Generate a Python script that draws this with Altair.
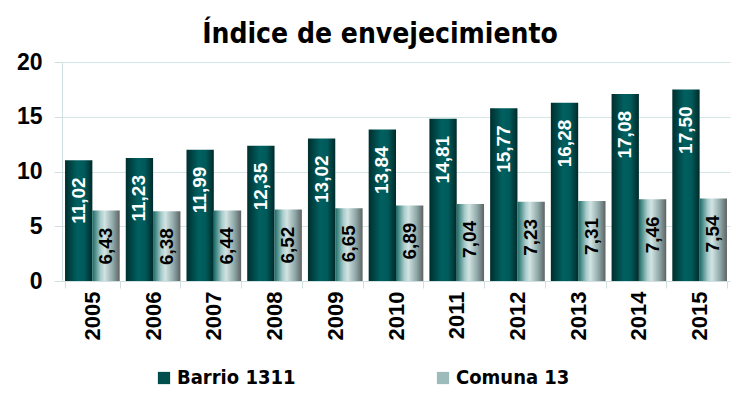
import altair as alt
import pandas as pd

years = ["2005", "2006", "2007", "2008", "2009", "2010", "2011", "2012", "2013", "2014", "2015"]
barrio = [11.02, 11.23, 11.99, 12.35, 13.02, 13.84, 14.81, 15.77, 16.28, 17.08, 17.50]
comuna = [6.43, 6.38, 6.44, 6.52, 6.65, 6.89, 7.04, 7.23, 7.31, 7.46, 7.54]
series = ["Barrio 1311", "Comuna 13"]

rows = []
for y, b, c in zip(years, barrio, comuna):
    rows.append({"year": y, "series": series[0], "value": b})
    rows.append({"year": y, "series": series[1], "value": c})
df = pd.DataFrame(rows)
df["label"] = df["value"].map(lambda v: f"{v:.2f}".replace(".", ","))

FONT = "Liberation Sans, Arial, sans-serif"
NARROW = "DejaVu Sans Condensed, Roboto, Liberation Sans, sans-serif"

grad_barrio = alt.LinearGradient(
    gradient="linear", x1=0, x2=1, y1=0, y2=0,
    stops=[
        alt.GradientStop(color="#002e2e", offset=0),
        alt.GradientStop(color="#006060", offset=0.45),
        alt.GradientStop(color="#005a5a", offset=0.7),
        alt.GradientStop(color="#002a2a", offset=1),
    ],
)
grad_comuna = alt.LinearGradient(
    gradient="linear", x1=0, x2=1, y1=0, y2=0,
    stops=[
        alt.GradientStop(color="#1a6a66", offset=0),
        alt.GradientStop(color="#a8cccb", offset=0.3),
        alt.GradientStop(color="#d2e3e3", offset=0.45),
        alt.GradientStop(color="#8fa8a8", offset=0.75),
        alt.GradientStop(color="#5e6262", offset=1),
    ],
)

x_enc = alt.X(
    "year:N",
    title=None,
    sort=years,
    scale=alt.Scale(paddingInner=0.1, paddingOuter=0.05),
    axis=alt.Axis(
        labelAngle=270, labelFont=FONT, labelFontSize=22, labelFontWeight="bold",
        labelColor="black", labelPadding=3, labelAlign="right", labelBaseline="middle",
        tickBand="extent", tickColor="#d0e0e0", tickSize=7,
        domainColor="#d0e0e0", grid=False,
    ),
)
xo_enc = alt.XOffset("series:N", sort=series, scale=alt.Scale(domain=series, paddingInner=0, paddingOuter=0))
y_enc = alt.Y(
    "value:Q",
    title=None,
    scale=alt.Scale(domain=[0, 20]),
    axis=alt.Axis(
        values=[0, 5, 10, 15, 20], labelFont=FONT, labelFontSize=23, labelFontWeight="bold",
        labelColor="black", labelPadding=12, tickColor="#d0e0e0", tickSize=8,
        domainColor="#d0e0e0", gridColor="#d5e6e6",
    ),
)

base = alt.Chart(df)

bars_b = base.transform_filter(alt.datum.series == series[0]).mark_bar(fill=grad_barrio).encode(
    x=x_enc, xOffset=xo_enc, y=y_enc)
bars_c = base.transform_filter(alt.datum.series == series[1]).mark_bar(fill=grad_comuna).encode(
    x=x_enc, xOffset=xo_enc, y=y_enc)

text_b = base.transform_filter(alt.datum.series == series[0]).mark_text(
    angle=270, align="right", baseline="middle", dx=-17, font=FONT, fontSize=19,
    fontWeight="bold", color="white").encode(x=x_enc, xOffset=xo_enc, y=y_enc, text="label:N")
text_c = base.transform_filter(alt.datum.series == series[1]).mark_text(
    angle=270, align="right", baseline="middle", dx=-17, font=FONT, fontSize=19,
    fontWeight="bold", color="black").encode(x=x_enc, xOffset=xo_enc, y=y_enc, text="label:N")

legend_layer = base.transform_filter("datum.value < 0").mark_bar().encode(
    x=x_enc, xOffset=xo_enc, y=y_enc,
    color=alt.Color(
        "series:N",
        scale=alt.Scale(domain=series, range=["#004e4e", "#9cbcbc"]),
        legend=alt.Legend(
            title=None, orient="none", legendX=92, legendY=306, direction="horizontal",
            symbolType="square", symbolSize=150, symbolStrokeWidth=0,
            labelFont=NARROW, labelFontSize=20, labelFontWeight="bold", labelColor="black",
            columnPadding=137, symbolOffset=0, labelOffset=3, labelLimit=300,
        ),
    ),
)

chart = alt.layer(bars_b, bars_c, text_b, text_c, legend_layer).properties(
    width=668, height=219,
    title=alt.TitleParams(
        "Índice de envejecimiento", font=NARROW, fontSize=28, fontWeight="bold",
        color="black", anchor="middle", dx=-16, dy=18, offset=20,
    ),
    autosize=alt.AutoSizeParams(type="none"),
    padding={"left": 54, "top": 54, "right": 12, "bottom": 114},
    background="white",
).configure_view(stroke=None)

chart.save("out.html", embed_options={"renderer": "svg", "actions": False})
